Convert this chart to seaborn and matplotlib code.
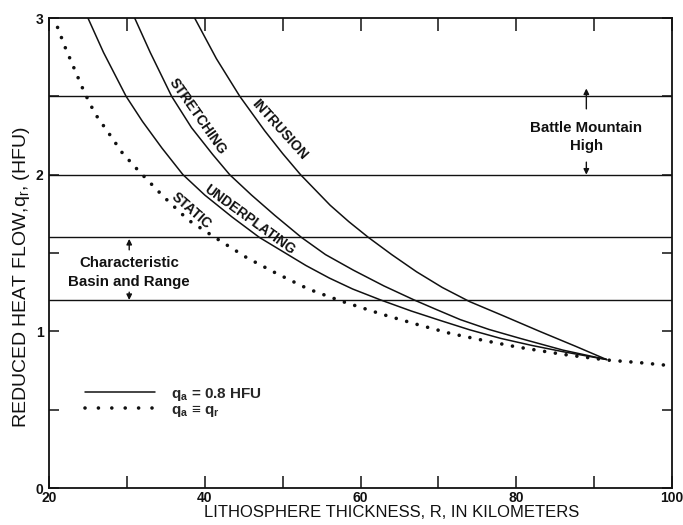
import matplotlib
matplotlib.use("Agg")
import matplotlib.pyplot as plt
import seaborn as sns
from matplotlib.ticker import MultipleLocator
from matplotlib.lines import Line2D

# Lithosphere thickness R (km) and reduced heat flow q_r (HFU) for each model
static_R = [21.1, 22.1, 23.3, 24.5, 25.9, 27.6, 29.4, 31.4, 34.7, 37.9, 41.6, 45.4,
            49.2, 53.3, 57.4, 62.7, 67.2, 71.5, 76.0, 80.1, 86.0, 91.6, 95.9, 100.0]
static_q = [2.94, 2.81, 2.67, 2.53, 2.39, 2.27, 2.14, 2.03, 1.86, 1.71, 1.59, 1.47,
            1.37, 1.27, 1.195, 1.11, 1.045, 0.987, 0.94, 0.90, 0.853, 0.817, 0.80, 0.78]

underplating_R = [25.0, 27.0, 29.9, 32.0, 34.5, 37.2, 40.0, 43.5, 47.0, 50.0, 53.0,
                  56.0, 59.0, 62.6, 66.5, 70.2, 74.0, 78.0, 82.0, 86.0, 91.6]
underplating_q = [3.00, 2.78, 2.50, 2.34, 2.17, 2.00, 1.87, 1.73, 1.60, 1.51, 1.42,
                  1.34, 1.27, 1.20, 1.13, 1.07, 1.01, 0.955, 0.91, 0.87, 0.82]

stretching_R = [31.0, 33.0, 35.75, 38.3, 41.0, 43.2, 46.0, 49.0, 52.4, 55.5, 59.1,
                63.0, 66.9, 69.8, 72.8, 76.5, 80.5, 86.0, 91.6]
stretching_q = [3.00, 2.78, 2.50, 2.30, 2.13, 2.00, 1.87, 1.74, 1.60, 1.49, 1.39,
                1.29, 1.20, 1.138, 1.075, 1.012, 0.955, 0.88, 0.82]

intrusion_R = [38.7, 41.5, 44.5, 47.7, 50.0, 52.3, 56.1, 58.5, 61.0, 64.0, 67.2, 70.5,
               74.0, 78.3, 83.0, 87.6, 91.6]
intrusion_q = [3.00, 2.74, 2.50, 2.28, 2.135, 2.00, 1.805, 1.70, 1.60, 1.49, 1.38, 1.28,
               1.19, 1.10, 1.00, 0.905, 0.82]

# Observed heat-flow levels (HFU)
band_levels = [1.2, 1.6, 2.0, 2.5]

x_ticks = [20, 40, 60, 80, 100]
x_tick_labels = ["20", "40", "60", "80", "100"]
y_ticks = [0, 1, 2, 3]
y_tick_labels = ["0", "1", "2", "3"]

sns.set_theme(style="ticks")
plt.rcParams["font.family"] = ["Liberation Sans", "DejaVu Sans"]
plt.rcParams["mathtext.fontset"] = "custom"
plt.rcParams["mathtext.rm"] = "Liberation Sans"
plt.rcParams["mathtext.bf"] = "Liberation Sans:bold"
plt.rcParams["mathtext.it"] = "Liberation Sans:italic"

ink = "#111111"
fig = plt.figure(figsize=(6.83, 5.25), dpi=100)
ax = fig.add_axes([49 / 683, 37 / 525, 623 / 683, 470 / 525])

for level in band_levels:
    ax.axhline(level, color=ink, lw=1.0, zorder=1)

for R, q in [(underplating_R, underplating_q), (stretching_R, stretching_q),
             (intrusion_R, intrusion_q)]:
    sns.lineplot(x=R, y=q, ax=ax, color=ink, linewidth=1.1, sort=False,
                 estimator=None, zorder=2)

sns.lineplot(x=static_R, y=static_q, ax=ax, color=ink, linewidth=2.6, sort=False,
             estimator=None, linestyle=(0, (0.01, 3.0)), dash_capstyle="round",
             zorder=3, clip_on=False)

ax.set_xlim(20, 100)
ax.set_ylim(0, 3)
ax.set_xticks(x_ticks, labels=x_tick_labels, fontweight="bold", fontsize=10)
ax.set_yticks(y_ticks, labels=y_tick_labels, fontweight="bold", fontsize=10)
ax.xaxis.set_minor_locator(MultipleLocator(10))
ax.yaxis.set_minor_locator(MultipleLocator(0.5))
ax.tick_params(which="both", direction="in", top=True, right=True, width=1.1,
               color=ink, labelcolor=ink)
ax.tick_params(axis="x", which="both", length=9, pad=2.5)
ax.tick_params(axis="y", which="both", length=7, pad=4)
for s in ax.spines.values():
    s.set_linewidth(1.3)
    s.set_color(ink)

ax.set_xlabel("LITHOSPHERE THICKNESS, R, IN KILOMETERS", fontsize=12, color=ink)
ax.set_ylabel(r"REDUCED HEAT FLOW,$\mathrm{q_r}$, (HFU)", fontsize=14, color=ink)
ax.xaxis.set_label_coords(0.55, -0.037)
ax.yaxis.set_label_coords(-0.027, 0.449)

# Curve names
lab = dict(fontsize=10, fontweight="bold", color=ink, ha="center", va="center",
           rotation_mode="anchor")
ax.text(39.1, 2.37, "STRETCHING", rotation=-55, **lab)
ax.text(49.6, 2.29, "INTRUSION", rotation=-48, **lab)
ax.text(45.7, 1.71, "UNDERPLATING", rotation=-36, **lab)
ax.text(38.3, 1.77, "STATIC", rotation=-41, **lab)

# Regional heat-flow ranges
note = dict(fontsize=10.8, fontweight="bold", color=ink, ha="center", va="center")
ax.text(89.0, 2.30, "Battle Mountain", **note)
ax.text(89.0, 2.18, "High", **note)
ax.text(30.3, 1.435, "Characteristic", **note)
ax.text(30.3, 1.315, "Basin and Range", **note)
arrow = dict(arrowstyle="-|>", lw=1.0, color=ink, mutation_scale=8,
             shrinkA=0, shrinkB=0)
ax.annotate("", xy=(89.0, 2.55), xytext=(89.0, 2.42), arrowprops=arrow)
ax.annotate("", xy=(89.0, 2.0), xytext=(89.0, 2.08), arrowprops=arrow)
ax.annotate("", xy=(30.3, 1.59), xytext=(30.3, 1.52), arrowprops=arrow)
ax.annotate("", xy=(30.3, 1.2), xytext=(30.3, 1.25), arrowprops=arrow)

handles = [Line2D([], [], color=ink, lw=1.1),
           Line2D([], [], color=ink, lw=2.6, linestyle=(0, (0.01, 3.7)),
                  dash_capstyle="round")]
ax.legend(handles, [r"$\mathbf{q_a}$ = 0.8 HFU", r"$\mathbf{q_a}$ ≡ $\mathbf{q_r}$"],
          loc="upper left", bbox_to_anchor=(0.058, 0.218), frameon=False,
          borderpad=0, borderaxespad=0, handlelength=4.6, handletextpad=1.0,
          labelspacing=0.0, prop=dict(weight="bold", size=11))

fig.savefig("out.png", dpi=100)
